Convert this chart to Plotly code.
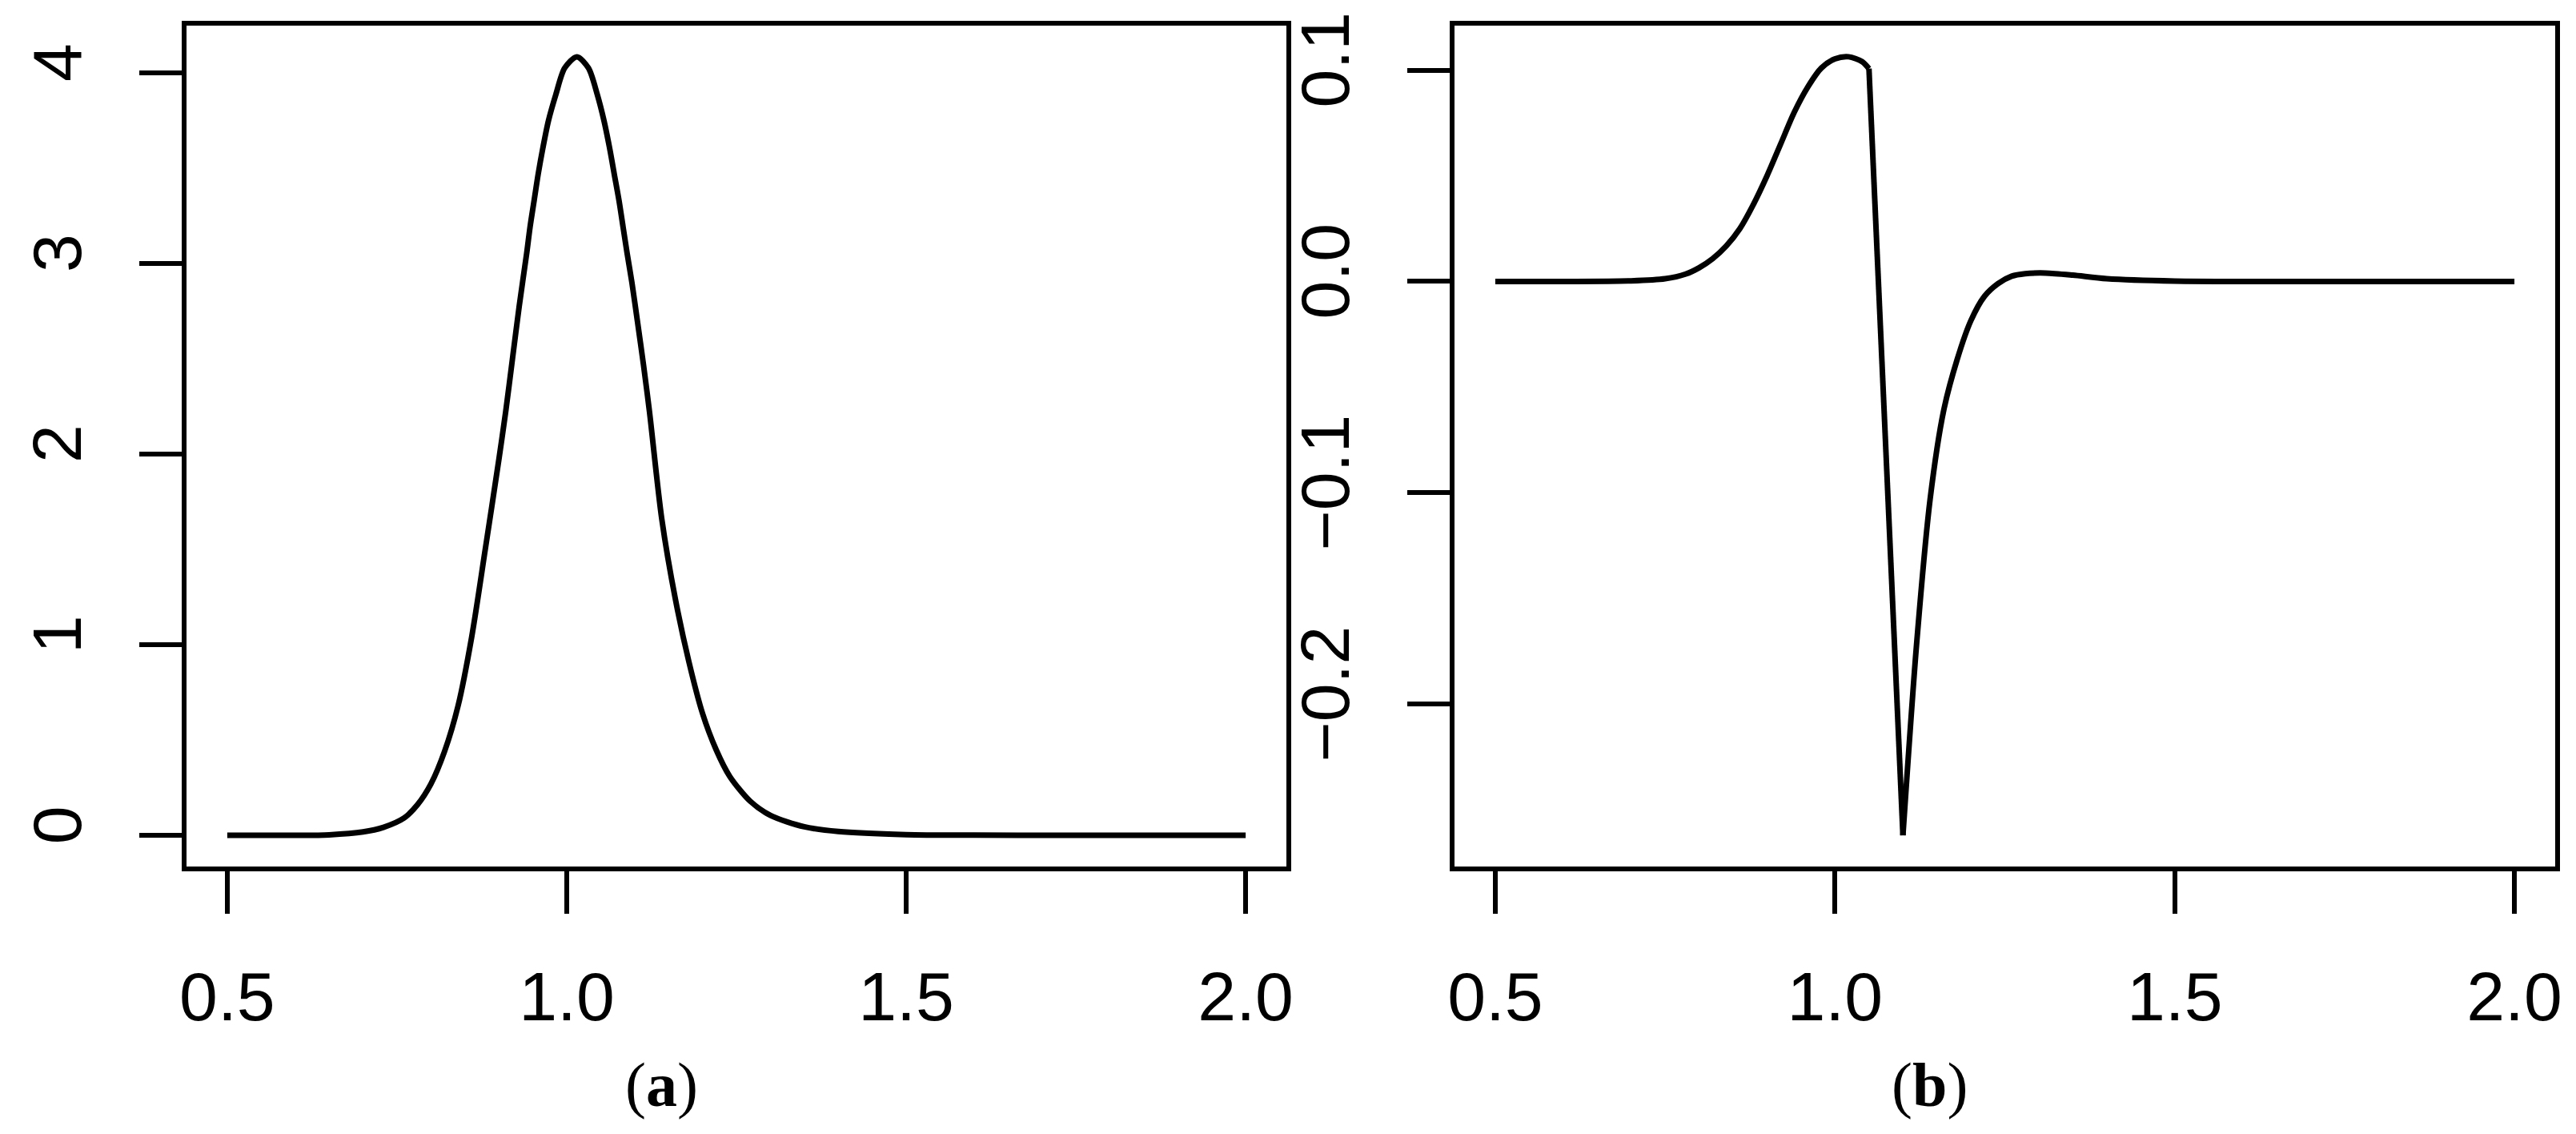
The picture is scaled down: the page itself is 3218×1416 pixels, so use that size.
import plotly.graph_objects as go
from plotly.subplots import make_subplots

# panel (a): density-like curve
x_a = [0.50, 0.60, 0.65, 0.70, 0.73, 0.76, 0.78, 0.80, 0.82, 0.84, 0.86, 0.88,
       0.90, 0.910, 0.920, 0.930, 0.941, 0.946, 0.952, 0.958, 0.965, 0.973,
       0.984, 0.997, 1.015, 1.032, 1.045, 1.055, 1.063, 1.070, 1.077, 1.083,
       1.089, 1.096, 1.104, 1.113, 1.122, 1.14, 1.16, 1.18, 1.20, 1.22, 1.24,
       1.27, 1.30, 1.35, 1.40, 1.50, 1.60, 1.80, 2.00]
y_a = [0.000, 0.000, 0.003, 0.018, 0.042, 0.090, 0.160, 0.270, 0.440, 0.680,
       1.040, 1.500, 1.970, 2.219, 2.497, 2.775, 3.052, 3.191, 3.330, 3.469,
       3.608, 3.747, 3.886, 4.025, 4.084, 4.025, 3.886, 3.747, 3.608, 3.469,
       3.330, 3.191, 3.052, 2.900, 2.700, 2.470, 2.219, 1.660, 1.240, 0.910,
       0.640, 0.450, 0.310, 0.180, 0.105, 0.045, 0.020, 0.004, 0.001, 0.000,
       0.000]

# panel (b): derivative-like curve, corners at x = 1.05 and x = 1.10
x_b = [0.50, 0.60, 0.70, 0.75, 0.78, 0.80, 0.82, 0.84, 0.86, 0.88, 0.90, 0.92,
       0.94, 0.96, 0.98, 1.00, 1.02, 1.04, 1.05, 1.10, 1.12, 1.14, 1.16, 1.18,
       1.20, 1.22, 1.24, 1.26, 1.28, 1.31, 1.35, 1.40, 1.50, 1.70, 2.00]
y_b = [0.0, 0.0, 0.0003, 0.0013, 0.0035, 0.0065, 0.0108, 0.0168, 0.0250,
       0.0365, 0.0500, 0.0650, 0.0800, 0.0920, 0.1010, 0.1053, 0.1063, 0.1040,
       0.1007, -0.262, -0.172, -0.103, -0.061, -0.0367, -0.0185, -0.0070,
       -0.0010, 0.0025, 0.0037, 0.0040, 0.0030, 0.0013, 0.0002, 0.0, 0.0]

x_ticks = [0.5, 1.0, 1.5, 2.0]
a_ticks = [0, 1, 2, 3, 4]
b_ticks = [-0.2, -0.1, 0.0, 0.1]
captions = ["(<b>a</b>)", "(<b>b</b>)"]

W, H = 3218, 1416
TICKFONT = dict(family="Liberation Sans, Arial, sans-serif", size=86, color="black")


def pad_range(vals, frac=0.04):
    lo, hi = min(vals), max(vals)
    d = (hi - lo) * frac
    return [lo - d, hi + d]


def pieces(xs, ys, breaks):
    # split at corner points so the smooth parts can use splines
    idx = [0] + [xs.index(b) for b in breaks] + [len(xs) - 1]
    return [(xs[i:j + 1], ys[i:j + 1]) for i, j in zip(idx[:-1], idx[1:])]


fig = make_subplots(rows=1, cols=2)

fig.add_trace(go.Scatter(x=x_a, y=y_a, mode="lines",
                         line=dict(color="black", width=7, shape="spline", smoothing=0.8),
                         showlegend=False, hoverinfo="skip"), row=1, col=1)

for k, (xs, ys) in enumerate(pieces(x_b, y_b, [1.05, 1.10])):
    shape = "linear" if k == 1 else "spline"
    fig.add_trace(go.Scatter(x=xs, y=ys, mode="lines",
                             line=dict(color="black", width=7, shape=shape, smoothing=0.8),
                             showlegend=False, hoverinfo="skip"), row=1, col=2)

ydom = [1 - 1074 / H, 1 - 24 / H]
axis_common = dict(showline=True, mirror=True, linecolor="black", linewidth=6,
                   ticks="outside", ticklen=53, tickwidth=6, tickcolor="black",
                   showgrid=False, zeroline=False, tickfont=TICKFONT, automargin=False)

fig.update_xaxes(axis_common, ticklabelstandoff=30)
fig.update_yaxes(axis_common, ticklabelstandoff=39)

fig.update_xaxes(domain=[225 / W, 1599 / W], range=pad_range(x_a), tickvals=x_ticks,
                 tickformat=".1f", row=1, col=1)
fig.update_xaxes(domain=[1809 / W, 3184 / W], range=pad_range(x_b), tickvals=x_ticks,
                 tickformat=".1f", row=1, col=2)
fig.update_yaxes(domain=ydom, range=pad_range(y_a), tickvals=a_ticks, tickangle=-90,
                 row=1, col=1)
fig.update_yaxes(domain=ydom, range=pad_range(y_b), tickvals=b_ticks, tickangle=-90,
                 tickformat=".1f", row=1, col=2)

for cx, txt in zip([818, 2402], captions):
    fig.add_annotation(x=cx / W, y=1 - 1346 / H, xref="paper", yref="paper", text=txt,
                       showarrow=False, xanchor="center", yanchor="middle",
                       font=dict(family="Liberation Serif, Times New Roman, serif", size=78, color="black"))

fig.update_layout(width=W, height=H, margin=dict(l=0, r=0, t=0, b=0),
                  plot_bgcolor="white", paper_bgcolor="white", showlegend=False)

fig.write_html("out.html")
